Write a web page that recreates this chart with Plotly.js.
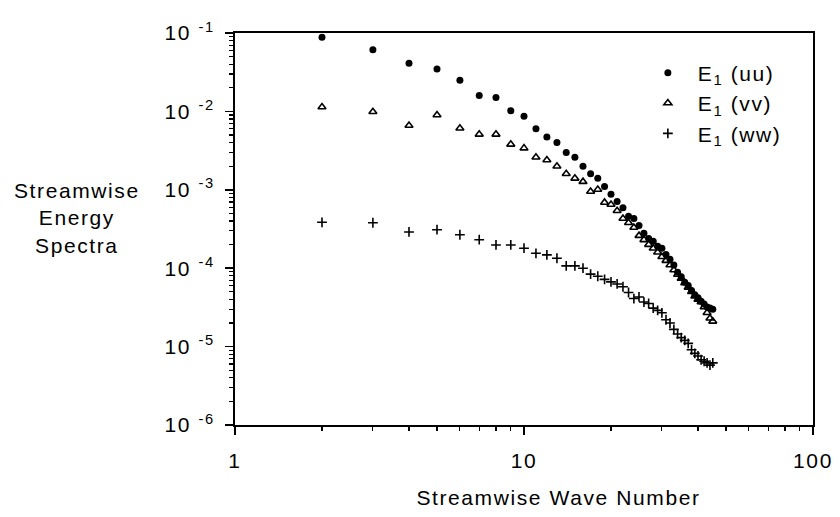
<!DOCTYPE html>
<html>
<head>
<meta charset="utf-8">
<script src="https://cdn.plot.ly/plotly-3.0.1.min.js"></script>
<style>
html,body{margin:0;padding:0;background:#fff;}
#chart{width:840px;height:517px;}
#chart svg text{letter-spacing:1.6px;}
</style>
</head>
<body>
<div id="chart"></div>
<script>
// Wave numbers
var waveNumber = [2,3,4,5,6,7,8,9,10,11,12,13,14,15,16,17,18,19,20,21,22,23,24,25,26,27,28,29,30,31,32,33,34,35,36,37,38,39,40,41,42,43,44,45];
// E1(uu)
var euu = [0.088,0.061,0.041,0.0347,0.025,0.016,0.015,0.0102,0.0087,0.0060,0.0047,0.0040,0.0030,0.0026,0.0020,0.0016,0.0014,0.0011,0.00088,0.00071,0.00059,0.00046,0.00043,0.00035,0.00028,0.00024,0.00022,0.00019,0.00018,0.00015,0.00013,0.00011,0.000089,0.000078,0.000066,0.000060,0.000052,0.000046,0.000042,0.000038,0.000035,0.000032,0.000031,0.000030];
// E1(vv)
var evv = [0.0114,0.0099,0.0066,0.0090,0.0061,0.0051,0.0051,0.0038,0.0034,0.0026,0.0024,0.0020,0.0016,0.0014,0.00127,0.00095,0.00101,0.00069,0.00065,0.00054,0.00043,0.00038,0.00033,0.00026,0.00023,0.00020,0.00018,0.00016,0.00014,0.000125,0.00011,0.000095,0.000083,0.000074,0.000065,0.000057,0.000050,0.000044,0.000040,0.000037,0.000032,0.000027,0.000023,0.000021];
// E1(ww)
var eww = [0.000385,0.00038,0.00029,0.00031,0.000267,0.000231,0.000198,0.000198,0.00018,0.000155,0.000148,0.000134,0.000107,0.000107,0.0001,0.000084,0.000079,0.000072,0.000067,0.000063,0.000058,0.000049,0.000041,0.000043,0.000037,0.0000355,0.000031,0.000029,0.000027,0.000022,0.00002,0.0000166,0.0000145,0.000013,0.000012,0.000011,0.0000091,0.0000082,0.0000076,0.0000068,0.0000065,0.0000062,0.0000058,0.0000062];

var seriesNames = ['E<sub>1</sub> (uu)&nbsp;&nbsp;','E<sub>1</sub> (vv)&nbsp;&nbsp;','E<sub>1</sub> (ww)&nbsp;&nbsp;'];
var xTickVals = [1,10,100];
var xTickText = ['1','10','100'];
var yTickVals = [1e-6,1e-5,1e-4,1e-3,1e-2,1e-1];
var yTickText = ['10 <sup>-6</sup>','10 <sup>-5</sup>','10 <sup>-4</sup>','10 <sup>-3</sup>','10 <sup>-2</sup>','10 <sup>-1</sup>'];
var xTitle = 'Streamwise Wave Number';
var yTitle = 'Streamwise<br>Energy<br>Spectra';

function minorVals(lo, hi){
  var out=[];
  for(var e=lo;e<hi;e++){for(var d=2;d<=9;d++){out.push(d*Math.pow(10,e));}}
  return out;
}

var font = "'Liberation Sans', Arial, sans-serif";
var fs = 21;

var traces = [
  {x: waveNumber, y: euu, name: seriesNames[0], mode:'markers', type:'scatter',
   marker:{symbol:'circle', size:7, color:'#000'}},
  {x: waveNumber, y: evv, name: seriesNames[1], mode:'markers', type:'scatter',
   marker:{symbol:'triangle-up-open', size:7, color:'#000', line:{width:1.6, color:'#000'}}},
  {x: waveNumber, y: eww, name: seriesNames[2], mode:'markers', type:'scatter',
   marker:{symbol:'cross-thin-open', size:7, color:'#000', line:{width:1.6, color:'#000'}}}
];

var layout = {
  width:840, height:517,
  margin:{l:235, r:27, t:33, b:92},
  paper_bgcolor:'#fff', plot_bgcolor:'#fff',
  font:{family:font, color:'#000', size:fs},
  showlegend:true,
  legend:{x:0.697, y:0.95, xanchor:'left', yanchor:'top', bgcolor:'rgba(0,0,0,0)',
          font:{family:font, size:fs, color:'#000'}, tracegroupgap:0, itemwidth:50},
  xaxis:{type:'log', range:[0,2], tickmode:'array', tickvals:xTickVals, ticktext:xTickText,
         ticks:'outside', ticklen:8, tickwidth:1.5, tickcolor:'#000',
         showline:true, linewidth:2, linecolor:'#000', mirror:true, showgrid:false, zeroline:false,
         ticklabelstandoff:8,
         minor:{tickmode:'array', tickvals:minorVals(0,2), ticks:'outside', ticklen:4, tickwidth:1.2, tickcolor:'#000', showgrid:false},
         tickfont:{family:font, size:fs, color:'#000'}},
  yaxis:{type:'log', range:[-6,-1], tickmode:'array', tickvals:yTickVals, ticktext:yTickText,
         ticks:'outside', ticklen:8, tickwidth:1.5, tickcolor:'#000',
         showline:true, linewidth:2, linecolor:'#000', mirror:true, showgrid:false, zeroline:false,
         ticklabelstandoff:6,
         minor:{tickmode:'array', tickvals:minorVals(-6,-1), ticks:'outside', ticklen:4, tickwidth:1.2, tickcolor:'#000', showgrid:false},
         tickfont:{family:font, size:fs, color:'#000'}},
  annotations:[
    {text:yTitle, xref:'paper', yref:'paper', x:-0.273, y:0.528, xanchor:'center', yanchor:'middle',
     showarrow:false, align:'center', font:{family:font, size:fs, color:'#000'}},
    {text:xTitle, xref:'paper', yref:'paper', x:0.56, y:-0.185, xanchor:'center', yanchor:'middle',
     showarrow:false, font:{family:font, size:fs, color:'#000'}}
  ]
};

Plotly.newPlot('chart', traces, layout, {displayModeBar:false, staticPlot:true});
</script>
</body>
</html>
